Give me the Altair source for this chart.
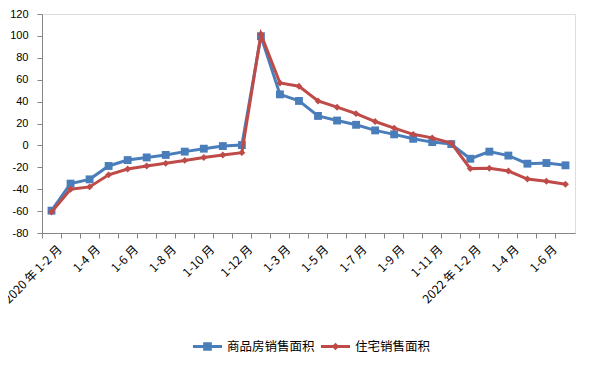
import altair as alt
import pandas as pd

keys = (
    [f"2020年1-{m}月" for m in range(2, 13)]
    + [f"2021年1-{m}月" for m in range(2, 13)]
    + [f"2022年1-{m}月" for m in range(2, 8)]
)
tick_labels = [
    "2020 年 1-2 月", "", "1-4 月", "", "1-6 月", "", "1-8 月", "", "1-10 月", "", "1-12 月",
    "", "1-3 月", "", "1-5 月", "", "1-7 月", "", "1-9 月", "", "1-11 月", "",
    "2022 年 1-2 月", "", "1-4 月", "", "1-6 月", "",
]

series_names = ["商品房销售面积", "住宅销售面积"]
commercial = [-59.6, -34.9, -31.0, -18.8, -13.4, -11.0, -8.7, -5.7, -3.0, -0.6, 0.3,
              99.7, 46.6, 40.6, 26.9, 22.7, 18.8, 13.7, 10.1, 6.0, 3.0, 1.2,
              -12.2, -5.7, -9.3, -16.7, -16.1, -18.2]
residential = [-60.9, -40.0, -37.9, -26.9, -21.5, -18.8, -16.4, -13.7, -11.0, -8.7, -6.6,
               101.5, 57.0, 54.0, 40.6, 34.9, 29.0, 21.8, 15.8, 10.1, 6.9, 2.1,
               -21.2, -20.9, -23.3, -30.7, -32.8, -35.5]

colors = ["#4A7EBB", "#BE4B48"]
legend_shapes = [
    "M-1,-0.1L1,-0.1L1,0.1L-1,0.1Z M-0.3,-0.3L0.3,-0.3L0.3,0.3L-0.3,0.3Z",
    "M-1,-0.1L1,-0.1L1,0.1L-1,0.1Z M0,-0.26L0.26,0L0,0.26L-0.26,0Z",
]

df = pd.DataFrame({
    "key": keys * 2,
    "series": [series_names[0]] * len(keys) + [series_names[1]] * len(keys),
    "value": commercial + residential,
})

FONT = "Noto Sans CJK SC"
W, H = 533, 219
band = W / len(keys)

key_arr = "[" + ",".join(f"'{k}'" for k in keys) + "]"
lab_arr = "[" + ",".join(f"'{l}'" for l in tick_labels) + "]"

x_enc = alt.X(
    "key:N",
    sort=keys,
    scale=alt.Scale(type="band", paddingInner=0, paddingOuter=0),
    axis=alt.Axis(
        title=None,
        bandPosition=0,
        labelOffset=band / 2 - 1,
        labelExpr=f"{lab_arr}[indexof({key_arr}, datum.value)]",
        labelAngle=-45,
        labelAlign="right",
        labelBaseline="middle",
        labelFont=FONT,
        labelFontSize=12,
        labelColor="#000000",
        labelPadding=9,
        labelOverlap=False,
        labelBound=False,
        tickSize=5,
        tickColor="#868686",
        domainColor="#868686",
        grid=False,
    ),
)
y_enc = alt.Y(
    "value:Q",
    scale=alt.Scale(domain=[-80, 120], nice=False, zero=False),
    axis=alt.Axis(
        title=None,
        values=list(range(-80, 121, 20)),
        labelExpr="'' + datum.value",
        labelFont="Liberation Sans",
        labelFontSize=11,
        labelColor="#000000",
        labelPadding=9,
        tickSize=5,
        tickColor="#868686",
        domainColor="#868686",
        grid=False,
    ),
)

base = alt.Chart(df)
layers = []
for name, col, shp, sz in [
    (series_names[0], colors[0], "square", 62),
    (series_names[1], colors[1], "diamond", 48),
]:
    sub = base.transform_filter(alt.datum.series == name)
    layers.append(sub.mark_line(color=col, strokeWidth=3).encode(x=x_enc, y=y_enc))
    layers.append(
        sub.mark_point(shape=shp, filled=True, color=col, size=sz, opacity=1).encode(
            x=x_enc, y=y_enc
        )
    )

legend_cfg = dict(
    title=None,
    orient="none",
    direction="horizontal",
    legendX=151,
    legendY=318,
    symbolSize=841,
    symbolStrokeWidth=0,
    labelFont=FONT,
    labelFontSize=12.5,
    labelColor="#000000",
    labelOffset=5,
    columnPadding=6,
)

legend_layer = base.transform_filter("false").mark_point(filled=True, opacity=1).encode(
    color=alt.Color(
        "series:N",
        scale=alt.Scale(domain=series_names, range=colors),
        legend=alt.Legend(**legend_cfg),
    ),
    shape=alt.Shape(
        "series:N",
        scale=alt.Scale(domain=series_names, range=legend_shapes),
        legend=alt.Legend(**legend_cfg),
    ),
)

chart = alt.layer(*layers, legend_layer).properties(
    width=W,
    height=H,
    autosize=alt.AutoSizeParams(type="none"),
    padding={"left": 34, "top": 6, "right": 6, "bottom": 131},
).configure_view(stroke=None).configure(background="white")

chart.save("out.html", embed_options={"renderer": "svg", "actions": False})
